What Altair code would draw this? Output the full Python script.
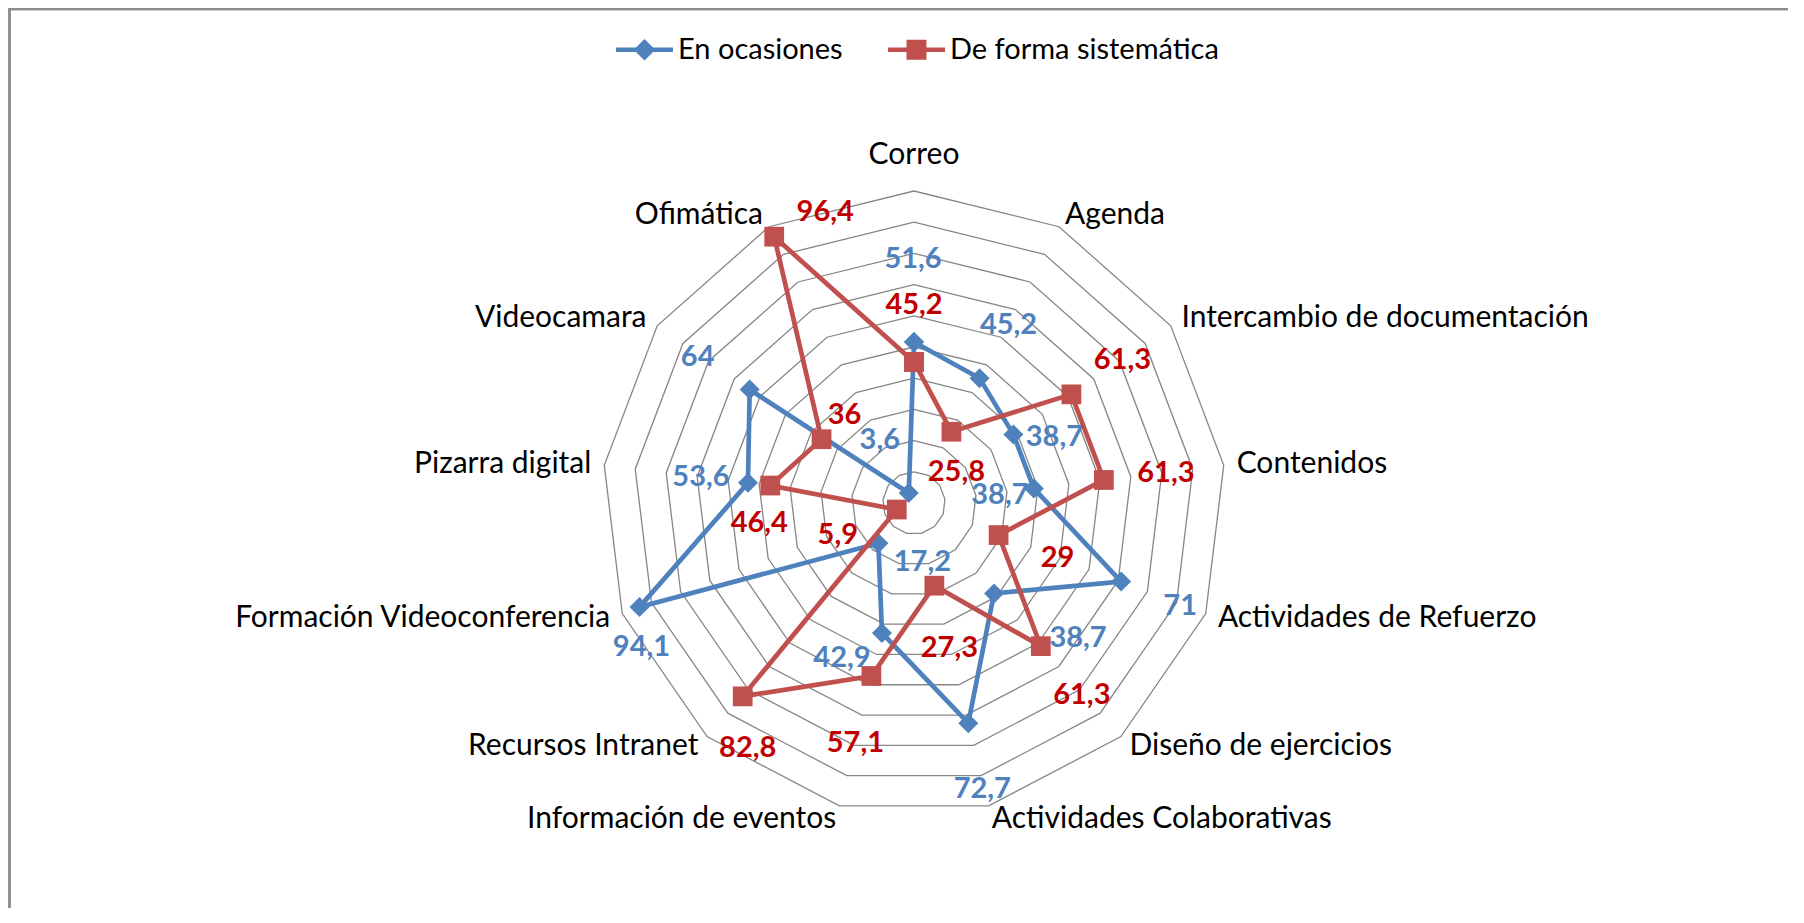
import math
import altair as alt
import pandas as pd

# ---------------- data ----------------
categories = [
    "Correo", "Agenda", "Intercambio de documentación", "Contenidos",
    "Actividades de Refuerzo", "Diseño de ejercicios", "Actividades Colaborativas",
    "Información de eventos", "Recursos Intranet", "Formación Videoconferencia",
    "Pizarra digital", "Videocamara", "Ofimática",
]
series_names = ["En ocasiones", "De forma sistemática"]
en_ocasiones = [51.6, 45.2, 38.7, 38.7, 71, 38.7, 72.7, 42.9, 17.2, 94.1, 53.6, 64, 3.6]
de_forma_sistematica = [45.2, 25.8, 61.3, 61.3, 29, 61.3, 27.3, 57.1, 82.8, 5.9, 46.4, 36, 96.4]
grid_levels = [10, 20, 30, 40, 50, 60, 70, 80, 90, 100]

# data-label offsets from their point (pixels), as placed in the original
blue_label_dx = [-1, 29, 41, -34, 59, 84, 14, -40, 44, 2, -47, -52, -29]
blue_label_dy = [-83, -53, 3, 7, 24, 45, 66, 25, 19, 40, -6, -33, -53]
red_label_dx = [0, 5, 51, 62, 59, 41, 15, -16, 5, -59, -11, 23, 51]
red_label_dy = [-57, 40, -34, -7, 23, 49, 62, 67, 52, 25, 37, -24, -25]

# ---------------- layout / style ----------------
W, H = 1780, 900
CX, CY = 906, 495          # centre of the radar inside the plot (px)
K = 3.12                   # px per value unit
XMIN = -CX / K
XMAX = XMIN + W / K
YMAX = CY / K
YMIN = YMAX - H / K
BLUE = "#4F81BD"
RED = "#C0504D"
BLUE_TXT = "#4F81BD"
RED_TXT = "#C00000"
GRID = "#868686"
FONT = "Lato"

n = len(categories)


def ang(i):
    return 2 * math.pi * i / n


# grid rings
grid_rows = []
for lv in grid_levels:
    for k in range(n + 1):
        a = ang(k % n)
        grid_rows.append({"level": lv, "ord": k, "x": lv * math.sin(a), "y": lv * math.cos(a)})
grid_df = pd.DataFrame(grid_rows)


def series_df(vals):
    rows = []
    for k in range(n + 1):
        i = k % n
        a = ang(i)
        rows.append({"cat": categories[i], "ord": k, "v": vals[i],
                     "x": vals[i] * math.sin(a), "y": vals[i] * math.cos(a)})
    return pd.DataFrame(rows)


def label_df(vals, dxs, dys):
    rows = []
    for i in range(n):
        a = ang(i)
        rows.append({
            "txt": f"{vals[i]:g}".replace(".", ","),
            "x": vals[i] * math.sin(a) + dxs[i] / K,
            "y": vals[i] * math.cos(a) - dys[i] / K,
        })
    return pd.DataFrame(rows)


blue_df = series_df(en_ocasiones)
red_df = series_df(de_forma_sistematica)
blue_lab = label_df(en_ocasiones, blue_label_dx, blue_label_dy)
red_lab = label_df(de_forma_sistematica, red_label_dx, red_label_dy)

outer = max(grid_levels)
cat_rows = []
for i, c in enumerate(categories):
    a = ang(i)
    s, co = math.sin(a), math.cos(a)
    if s > 0.1:
        al = "left"
    elif s < -0.1:
        al = "right"
    else:
        al = "center"
    extra = 23 if al == "center" else 0
    cat_rows.append({"cat": c, "align": al,
                     "x": outer * s + 13 * s / K,
                     "y": outer * co + (13 * co + extra) / K})
cat_df = pd.DataFrame(cat_rows)

xs = alt.Scale(domain=[XMIN, XMAX], nice=False, zero=False)
ys = alt.Scale(domain=[YMIN, YMAX], nice=False, zero=False)
X = alt.X("x:Q", scale=xs, axis=None)
Y = alt.Y("y:Q", scale=ys, axis=None)

grid = alt.Chart(grid_df).mark_line(color=GRID, strokeWidth=1.3).encode(
    x=X, y=Y, detail="level:N", order="ord:Q")

blue_line = alt.Chart(blue_df).mark_line(color=BLUE, strokeWidth=4.7).encode(x=X, y=Y, order="ord:Q")
blue_pts = alt.Chart(blue_df).mark_point(shape="diamond", filled=True, color=BLUE, size=400,
                                         opacity=1).encode(x=X, y=Y)
red_line = alt.Chart(red_df).mark_line(color=RED, strokeWidth=4.7).encode(x=X, y=Y, order="ord:Q")
red_pts = alt.Chart(red_df).mark_point(shape="square", filled=True, color=RED, size=390,
                                       opacity=1).encode(x=X, y=Y)

blue_txt = alt.Chart(blue_lab).mark_text(font=FONT, fontSize=29, fontWeight="bold", color=BLUE_TXT,
                                         baseline="middle").encode(x=X, y=Y, text="txt:N")
red_txt = alt.Chart(red_lab).mark_text(font=FONT, fontSize=29, fontWeight="bold", color=RED_TXT,
                                       baseline="middle").encode(x=X, y=Y, text="txt:N")

cat_layers = []
for al in ["left", "center", "right"]:
    cat_layers.append(
        alt.Chart(cat_df).transform_filter(alt.datum.align == al)
        .mark_text(font=FONT, fontSize=30, color="black", align=al, baseline="middle")
        .encode(x=X, y=Y, text="cat:N")
    )

# legend (line + marker symbols)
diamond_path = ("M-1,-0.08L-0.3,-0.08L0,-0.38L0.3,-0.08L1,-0.08L1,0.08L0.3,0.08L0,0.38"
                "L-0.3,0.08L-1,0.08Z")
square_path = ("M-1,-0.08L-0.35,-0.08L-0.35,-0.35L0.35,-0.35L0.35,-0.08L1,-0.08L1,0.08"
               "L0.35,0.08L0.35,0.35L-0.35,0.35L-0.35,0.08L-1,0.08Z")
leg = alt.Legend(orient="none", legendX=608, legendY=13, direction="horizontal", title=None,
                 symbolSize=3249, labelFont=FONT, labelFontSize=29, labelColor="black",
                 labelOffset=5, columnPadding=45, symbolStrokeWidth=0, labelLimit=500)
legend_df = pd.DataFrame({"serie": series_names, "x": [0, 0], "y": [0, 0]})
legend_layer = alt.Chart(legend_df).transform_filter("false").mark_point(
    filled=True, opacity=1).encode(
    x=X, y=Y,
    color=alt.Color("serie:N", scale=alt.Scale(domain=series_names, range=[BLUE, RED]), legend=leg),
    shape=alt.Shape("serie:N", scale=alt.Scale(domain=series_names, range=[diamond_path, square_path]),
                    legend=leg),
)

border_top = alt.Chart(legend_df).mark_rule(color="#8C8C8C", strokeWidth=2.5).encode(
    x=alt.value(1), x2=alt.value(W), y=alt.value(1))
border_left = alt.Chart(legend_df).mark_rule(color="#8C8C8C", strokeWidth=2.5).encode(
    x=alt.value(1.5), y=alt.value(0), y2=alt.value(H))

chart = alt.layer(
    border_top, border_left, grid, blue_line, blue_pts, red_line, red_pts,
    blue_txt, red_txt, *cat_layers, legend_layer,
).properties(
    width=W, height=H, autosize=alt.AutoSizeParams(type="none"), padding=0
).configure_view(stroke=None)

chart.save("out.html", embed_options={"renderer": "svg", "actions": False})
